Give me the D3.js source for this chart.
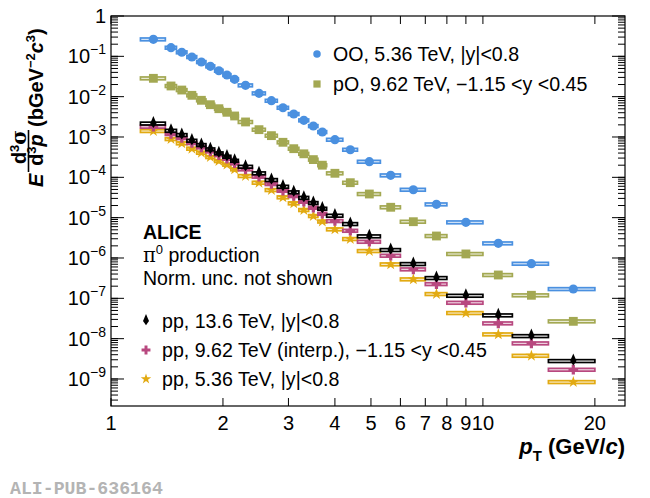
<!DOCTYPE html>
<html>
<head>
<meta charset="utf-8">
<script src="https://cdn.jsdelivr.net/npm/d3@7"></script>
<style>
body { margin: 0; background: #fff; }
svg text { font-family: "Liberation Sans", Arial, sans-serif; fill: #000; }
</style>
</head>
<body>
<svg id="chart" width="650" height="498"></svg>
<script>
// pT bin edges (GeV/c), same binning for all five spectra
const binLo = [1.2, 1.4, 1.5, 1.6, 1.7, 1.8, 1.9, 2.0, 2.1, 2.2, 2.4, 2.6, 2.8, 3.0, 3.2, 3.4, 3.6, 3.8, 4.2, 4.6, 5.3, 6, 7, 8, 10, 12, 15]
const binHi = [1.4, 1.5, 1.6, 1.7, 1.8, 1.9, 2.0, 2.1, 2.2, 2.4, 2.6, 2.8, 3.0, 3.2, 3.4, 3.6, 3.8, 4.2, 4.6, 5.3, 6, 7, 8, 10, 12, 15, 20]

// invariant cross sections
const ooVals = [0.264, 0.164, 0.126, 0.0962, 0.0723, 0.0565, 0.0440, 0.0344, 0.0269, 0.0191, 0.0121, 0.00794, 0.00532, 0.00372, 0.00259, 0.00187, 0.00133, 8.57e-4, 4.84e-4, 2.44e-4, 1.12e-4, 4.93e-5, 2.14e-5, 7.67e-6, 2.31e-6, 7.22e-7, 1.70e-7]
const poVals = [0.0285, 0.0184, 0.0146, 0.0108, 0.00813, 0.00632, 0.00503, 0.00410, 0.00332, 0.00236, 0.00152, 0.00108, 7.39e-4, 5.13e-4, 3.83e-4, 2.75e-4, 2.00e-4, 1.26e-4, 7.36e-5, 3.86e-5, 1.81e-5, 7.94e-6, 3.51e-6, 1.26e-6, 3.79e-7, 1.19e-7, 2.69e-8]
const pp136Vals = [2.16e-3, 1.43e-3, 1.12e-3, 8.09e-4, 6.33e-4, 4.95e-4, 3.94e-4, 3.25e-4, 2.58e-4, 1.83e-4, 1.26e-4, 8.59e-5, 5.86e-5, 4.26e-5, 3.11e-5, 2.31e-5, 1.67e-5, 1.12e-5, 6.96e-6, 3.45e-6, 1.58e-6, 7.10e-7, 3.19e-7, 1.16e-7, 3.79e-8, 1.16e-8, 2.79e-9]
const pp962Vals = [1.80e-3, 1.19e-3, 9.44e-4, 7.10e-4, 5.55e-4, 4.42e-4, 3.57e-4, 2.90e-4, 2.23e-4, 1.58e-4, 1.04e-4, 6.83e-5, 4.66e-5, 3.44e-5, 2.49e-5, 1.77e-5, 1.25e-5, 8.26e-6, 4.74e-6, 2.53e-6, 1.14e-6, 5.24e-7, 2.26e-7, 7.78e-8, 2.40e-8, 7.66e-9, 1.70e-9]
const pp536Vals = [1.41e-3, 8.91e-4, 6.98e-4, 5.13e-4, 4.08e-4, 3.19e-4, 2.54e-4, 2.06e-4, 1.58e-4, 1.08e-4, 7.36e-5, 4.85e-5, 3.20e-5, 2.27e-5, 1.55e-5, 1.10e-5, 8.02e-6, 5.14e-6, 2.96e-6, 1.49e-6, 6.97e-7, 2.96e-7, 1.28e-7, 4.33e-8, 1.28e-8, 3.77e-9, 8.41e-10]

// axis ticks
const xTicks = [1, 2, 3, 4, 5, 6, 7, 8, 9, 10, 20]
const yDecades = [0, -1, -2, -3, -4, -5, -6, -7, -8, -9]

const sysRel = 0.08

const padL = 111, padR = 625, padT = 16, padB = 406

const svg = d3.select('#chart')

const x = d3.scaleLog().domain([1, 24.1]).range([padL, padR])
const y = d3.scaleLog().domain([2.14e-10, 1]).range([padB, padT])

// thin diamond, like ROOT marker 33
const thinDiamond = {
    draw: function (ctx, size) {
        const h = Math.sqrt(size) * 0.95, w = h * 0.42
        ctx.moveTo(0, -h)
        ctx.lineTo(w, 0)
        ctx.lineTo(0, h * 0.6)
        ctx.lineTo(-w, 0)
        ctx.closePath()
    }
}

const series = [
    { name: "OO", vals: ooVals, col: "#4A90E0", sym: d3.symbolCircle, size: 66, leg: 44 },
    { name: "pO", vals: poVals, col: "#A3A852", sym: d3.symbolSquare, size: 78, leg: 52 },
    { name: "pp536", vals: pp536Vals, col: "#E2AA12", sym: d3.symbolStar, size: 42, leg: 34 },
    { name: "pp962", vals: pp962Vals, col: "#B8487F", sym: d3.symbolCross, size: 52, leg: 44 },
    { name: "pp136", vals: pp136Vals, col: "#000000", sym: thinDiamond, size: 64, leg: 56 }
]

// frame
svg.append('rect')
    .attr('x', padL).attr('y', padT)
    .attr('width', padR - padL).attr('height', padB - padT)
    .attr('fill', 'none').attr('stroke', '#000').attr('stroke-width', 1.2)

const axes = svg.append('g').attr('stroke', '#000').attr('stroke-width', 1)

// y ticks, left and right
yDecades.forEach(function (e) {
    for (let m = 1; m <= 9; m++) {
        const v = m * Math.pow(10, e - 1)
        if (v < y.domain()[0]) continue
        const yy = y(v)
        const len = 7
        axes.append('line').attr('x1', padL).attr('x2', padL + len).attr('y1', yy).attr('y2', yy)
        axes.append('line').attr('x1', padR).attr('x2', padR - len).attr('y1', yy).attr('y2', yy)
    }
    const yy = y(Math.pow(10, e))
    axes.append('line').attr('x1', padL).attr('x2', padL + 13).attr('y1', yy).attr('y2', yy)
    axes.append('line').attr('x1', padR).attr('x2', padR - 13).attr('y1', yy).attr('y2', yy)
})

// x ticks, bottom and top
xTicks.forEach(function (t) {
    const xx = x(t)
    axes.append('line').attr('x1', xx).attr('x2', xx).attr('y1', padB).attr('y2', padB - 8)
    axes.append('line').attr('x1', xx).attr('x2', xx).attr('y1', padT).attr('y2', padT + 8)
})

// tick labels
svg.append('g').selectAll('text')
    .data(xTicks)
    .enter()
    .append('text')
    .attr('x', d => x(d))
    .attr('y', 430)
    .attr('text-anchor', 'middle')
    .style('font-size', '20px')
    .text(d => d)

const yLab = svg.append('g').selectAll('text')
    .data(yDecades)
    .enter()
    .append('text')
    .attr('x', 106)
    .attr('y', d => y(Math.pow(10, d)) + 7)
    .attr('text-anchor', 'end')
    .style('font-size', '20px')

yLab.each(function (d) {
    const t = d3.select(this)
    if (d === 0) {
        t.text('1')
    } else {
        t.append('tspan').text('10')
        t.append('tspan').attr('dy', -9).style('font-size', '14px').text('\u2212' + (-d))
    }
})

// data: systematic boxes + markers
series.forEach(function (s) {
    const g = svg.append('g')
    g.selectAll('rect')
        .data(s.vals)
        .enter()
        .append('rect')
        .attr('x', (d, i) => x(binLo[i]))
        .attr('width', (d, i) => x(binHi[i]) - x(binLo[i]))
        .attr('y', d => y(d * (1 + sysRel)))
        .attr('height', d => y(d * (1 - sysRel)) - y(d * (1 + sysRel)))
        .attr('fill', s.col)
        .attr('fill-opacity', s.name === "pp136" ? 0.0 : 0.2)
        .attr('stroke', s.col)
        .attr('stroke-width', 1.7)
    g.selectAll('path')
        .data(s.vals)
        .enter()
        .append('path')
        .attr('transform', (d, i) => 'translate(' + x((binLo[i] + binHi[i]) / 2) + ',' + y(d) + ')')
        .attr('d', d3.symbol().type(s.sym).size(s.size))
        .attr('fill', s.col)
})

// legends
const legItems = [
    { s: series[0], label: 'OO, 5.36 TeV, |y|<0.8', lx: 317, ly: 54 },
    { s: series[1], label: 'pO, 9.62 TeV, \u22121.15 <y <0.45', lx: 317, ly: 84 },
    { s: series[4], label: 'pp, 13.6 TeV, |y|<0.8', lx: 146, ly: 321 },
    { s: series[3], label: 'pp, 9.62 TeV (interp.), \u22121.15 <y <0.45', lx: 146, ly: 350 },
    { s: series[2], label: 'pp, 5.36 TeV, |y|<0.8', lx: 146, ly: 379 }
]

legItems.forEach(function (l) {
    svg.append('path')
        .attr('transform', 'translate(' + l.lx + ',' + l.ly + ')')
        .attr('d', d3.symbol().type(l.s.sym).size(l.s.leg))
        .attr('fill', l.s.col)
    svg.append('text')
        .attr('x', l.lx < 200 ? l.lx + 16 : l.lx + 16)
        .attr('y', l.ly + 7)
        .style('font-size', '19.6px')
        .text(l.label)
})

// ALICE label block
svg.append('text').attr('x', 143).attr('y', 239)
    .style('font-size', '19.5px').style('font-weight', 'bold').text('ALICE')
const piText = svg.append('text').attr('x', 143).attr('y', 262).style('font-size', '19.5px')
piText.append('tspan').style('font-family', '"DejaVu Serif", serif').text('\u03c0')
piText.append('tspan').attr('dy', -8).style('font-size', '13px').text('0')
piText.append('tspan').attr('dy', 8).text(' production')
svg.append('text').attr('x', 143).attr('y', 285)
    .style('font-size', '19.5px').text('Norm. unc. not shown')

// x title
const xt = svg.append('text').attr('x', 625).attr('y', 454)
    .attr('text-anchor', 'end')
    .style('font-size', '22px').style('font-weight', 'bold')
xt.append('tspan').style('font-style', 'italic').text('p')
xt.append('tspan').attr('dy', 7).style('font-size', '15px').text('T')
xt.append('tspan').attr('dy', -7).text(' (GeV/')
xt.append('tspan').style('font-style', 'italic').text('c')
xt.append('tspan').text(')')

// y title, rotated
const yt = svg.append('g').attr('transform', 'translate(43,187) rotate(-90)')
    .style('font-weight', 'bold')
yt.append('text').attr('x', 0).attr('y', 0)
    .style('font-size', '20px').style('font-style', 'italic').text('E')
const num = yt.append('text').attr('x', 40).attr('y', -17).attr('text-anchor', 'middle').style('font-size', '20px')
num.append('tspan').text('d')
num.append('tspan').attr('dy', -7).style('font-size', '13px').text('3')
num.append('tspan').attr('dy', 7).style('font-family', '"DejaVu Serif", serif').text('\u03c3')
yt.append('line').attr('x1', 15).attr('x2', 57).attr('y1', -14.5).attr('y2', -14.5)
    .attr('stroke', '#000').attr('stroke-width', 1.6)
const den = yt.append('text').attr('x', 37).attr('y', 0).attr('text-anchor', 'middle').style('font-size', '20px')
den.append('tspan').text('d')
den.append('tspan').attr('dy', -7).style('font-size', '13px').text('3')
den.append('tspan').attr('dy', 7).style('font-style', 'italic').text('p')
const unit = yt.append('text').attr('x', 60).attr('y', 0).style('font-size', '20px')
unit.append('tspan').text('(bGeV')
unit.append('tspan').attr('dy', -8).style('font-size', '13px').text('\u22122')
unit.append('tspan').attr('dy', 8).style('font-style', 'italic').text('c')
unit.append('tspan').attr('dy', -8).style('font-size', '13px').text('3')
unit.append('tspan').attr('dy', 8).text(')')

// publication id
svg.append('text').attr('x', 10).attr('y', 494)
    .style('font-family', '"Liberation Mono", monospace')
    .style('font-size', '18.2px').style('font-weight', 'bold')
    .style('fill', '#b4b4b4')
    .text('ALI-PUB-636164')
</script>
</body>
</html>
